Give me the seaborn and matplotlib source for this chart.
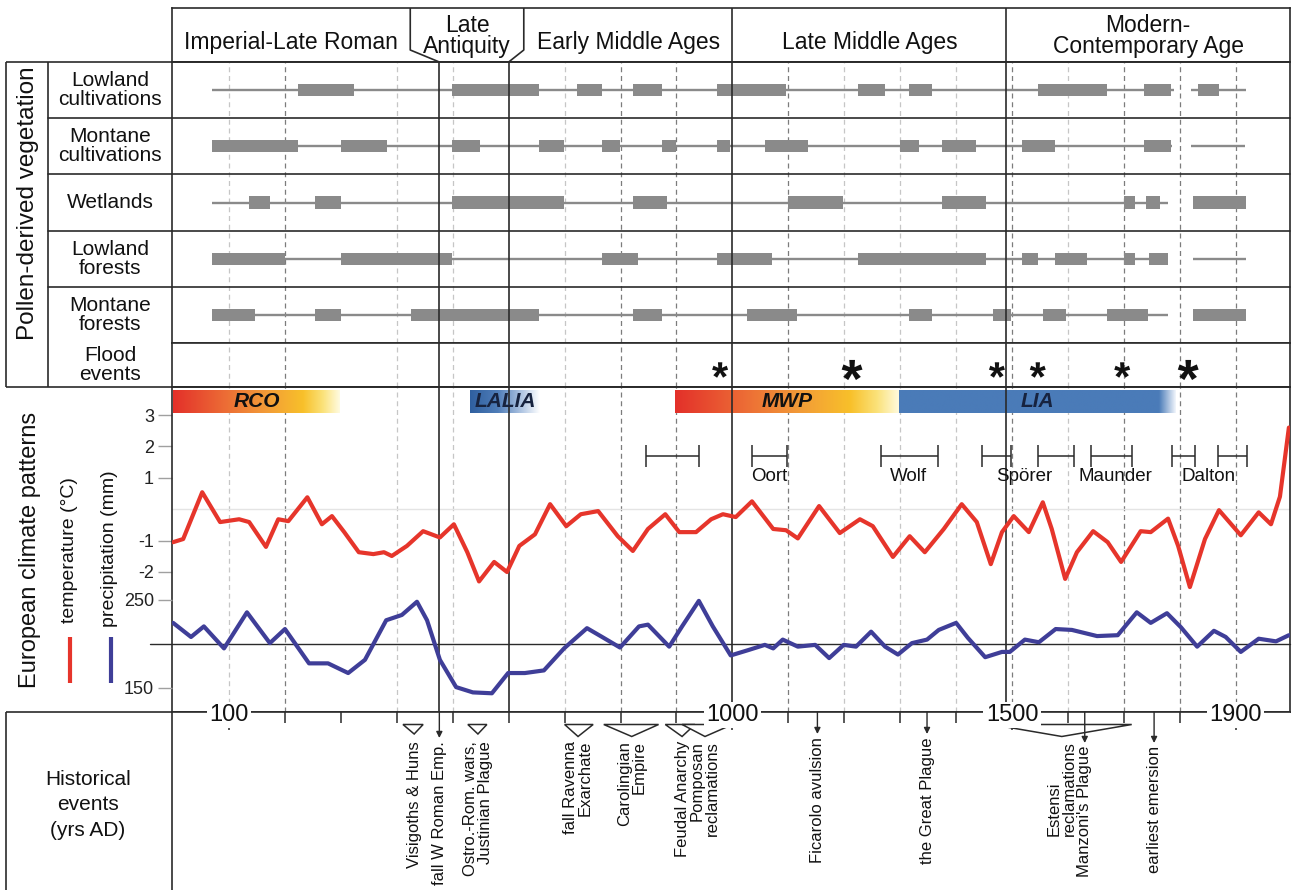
import numpy as np
import matplotlib
matplotlib.use("Agg")
import matplotlib.pyplot as plt
import matplotlib.transforms as mtransforms
from matplotlib.colors import LinearSegmentedColormap
from matplotlib.path import Path
from matplotlib.textpath import TextPath
from matplotlib.font_manager import FontProperties
import seaborn as sns

sns.set_theme(style="white")
plt.rcParams["font.family"] = ["Liberation Sans", "DejaVu Sans"]
plt.rcParams["axes.unicode_minus"] = False

# ---------------------------------------------------------------- data
PERIOD_NAMES = ["Imperial-Late Roman", "Late\nAntiquity", "Early Middle Ages",
                "Late Middle Ages", "Modern-\nContemporary Age"]
PERIOD_BREAKS = [476, 600, 1000, 1490]
LATE_ANTIQUITY_TOP = [424, 627]

POLLEN_ROWS = ["Lowland\ncultivations", "Montane\ncultivations", "Wetlands",
               "Lowland\nforests", "Montane\nforests"]
LC_RANGE = [(70, 1790), (1820, 1918)]
LC_PEAKS = [(223, 323), (499, 654), (722, 767), (822, 874), (972, 1096), (1225, 1273),
            (1316, 1357), (1546, 1670), (1736, 1784), (1832, 1870)]
MC_RANGE = [(70, 1786), (1820, 1916)]
MC_PEAKS = [(70, 223), (300, 383), (499, 549), (654, 699), (767, 799), (874, 899),
            (972, 996), (1058, 1135), (1300, 1333), (1375, 1435), (1518, 1577), (1736, 1784)]
WT_RANGE = [(70, 1779)]
WT_PEAKS = [(136, 173), (253, 300), (499, 699), (822, 883), (1099, 1198), (1375, 1453),
            (1700, 1720), (1739, 1764), (1823, 1918)]
LF_RANGE = [(70, 1779), (1823, 1918)]
LF_PEAKS = [(70, 200), (300, 499), (767, 831), (972, 1071), (1225, 1453), (1518, 1546),
            (1577, 1634), (1700, 1720), (1745, 1779)]
MF_RANGE = [(70, 1779)]
MF_PEAKS = [(70, 147), (253, 300), (425, 654), (822, 874), (1026, 1115), (1316, 1357),
            (1466, 1499), (1555, 1596), (1670, 1743), (1823, 1918)]

FLOOD_YEAR = [978, 1214, 1473, 1546, 1697, 1815]
FLOOD_MAJOR = [False, True, False, False, False, True]

CLIM_NAMES = ["RCO", "LALIA", "MWP", "LIA"]
CLIM_START = [0, 531, 897, 1298]
CLIM_END = [298, 656, 1298, 1793]
CLIM_KIND = ["warm", "cold-fading", "warm", "cold"]

MINIMA_START = [846, 1035, 1266, 1446, 1546, 1641, 1786, 1868]
MINIMA_END = [940, 1098, 1368, 1498, 1611, 1714, 1827, 1920]
MINIMA_NAMES = ["Oort", "Wolf", "Spörer", "Maunder", "Dalton"]
MINIMA_NAME_YEAR = [1066, 1315, 1522, 1685, 1852]

TEMP_YEAR = [0, 18, 52, 84, 118, 136, 166, 188, 206, 240, 266, 284, 306, 332, 358, 377,
             391, 418, 447, 477, 502, 526, 547, 574, 597, 619, 647, 674, 703, 729, 760,
             795, 822, 849, 880, 905, 935, 962, 983, 1006, 1035, 1073, 1096, 1117, 1155,
             1192, 1228, 1251, 1287, 1317, 1344, 1378, 1410, 1437, 1462, 1482, 1503, 1530,
             1555, 1571, 1595, 1616, 1645, 1671, 1695, 1730, 1748, 1779, 1797, 1818, 1845,
             1870, 1909, 1941, 1963, 1979, 1995]
TEMP_C = [-1.05, -0.95, 0.54, -0.41, -0.32, -0.41, -1.2, -0.32, -0.38, 0.38, -0.48, -0.22,
          -0.73, -1.37, -1.43, -1.37, -1.49, -1.17, -0.7, -0.9, -0.48, -1.37, -2.3, -1.68,
          -2.0, -1.17, -0.8, 0.16, -0.54, -0.16, -0.06, -0.86, -1.33, -0.63, -0.16, -0.73,
          -0.73, -0.32, -0.16, -0.25, 0.25, -0.63, -0.67, -0.93, 0.1, -0.76, -0.32, -0.54,
          -1.52, -0.86, -1.37, -0.63, 0.16, -0.41, -1.75, -0.73, -0.22, -0.73, 0.22, -0.63,
          -2.22, -1.37, -0.7, -1.05, -1.68, -0.7, -0.73, -0.3, -1.17, -2.48, -0.95, -0.03,
          -0.83, -0.1, -0.48, 0.4, 2.6]

PRECIP_YEAR = [0, 32, 55, 91, 132, 173, 200, 243, 277, 313, 343, 381, 409, 436, 454, 477,
               506, 536, 570, 599, 629, 663, 699, 740, 767, 799, 833, 849, 887, 910, 940,
               965, 997, 1028, 1058, 1073, 1090, 1117, 1148, 1173, 1199, 1221, 1248, 1273,
               1296, 1321, 1348, 1369, 1400, 1421, 1452, 1482, 1496, 1523, 1548, 1578, 1607,
               1652, 1689, 1723, 1748, 1777, 1802, 1831, 1861, 1882, 1909, 1941, 1972, 1995]
PRECIP_MM = [224, 208, 220, 195, 236, 201, 217, 178, 178, 167, 182, 227, 233, 248, 227, 182,
             151, 145, 144, 167, 167, 170, 195, 218, 208, 196, 220, 222, 197, 220, 249,
             220, 187, 193, 199, 195, 205, 197, 199, 184, 199, 197, 214, 197,
             188, 201, 205, 216, 224, 207, 185, 191, 191, 205, 202, 217, 216,
             209, 210, 236, 224, 235, 219, 197, 215, 208, 191, 206, 203, 210]

TEMP_TICKS = [3, 2, 1, -1, -2]
PRECIP_TICKS = [250, 150]
PRECIP_REF = 200
TIME_LABELS = [100, 1000, 1500, 1900]
CENTURIES = list(range(100, 2000, 100))
GRID_DARK = [200, 800, 900, 1100, 1500, 1700, 1800, 1900]
GRID_LIGHT = [100, 400, 500, 700, 1200, 1300, 1400, 1600]

TRI_LABELS = ["Visigoths & Huns", "Ostro.-Rom. wars,\nJustinian Plague", "fall Ravenna\nExarchate",
              "Carolingian\nEmpire", "Feudal Anarchy", "Pomposan\nreclamations",
              "Estensi\nreclamations"]
TRI_START = [411, 527, 700, 770, 880, 910, 1464]
TRI_APEX = [431, 545, 724, 820, 910, 951, 1589]
TRI_END = [447, 561, 751, 868, 933, 1000, 1714]
ARROW_LABELS = ["fall W Roman Emp.", "Ficarolo avulsion", "the Great Plague",
                "Manzoni's Plague", "earliest emersion"]
ARROW_YEAR = [476, 1152, 1348, 1630, 1754]

# ---------------------------------------------------------------- layout / style
W, H = 1292, 890
L, R = 172, 1290
XMIN, XMAX = -2, 1997
INK = "#2a2a2a"
BARGRAY = "#8a8a8a"
RED = "#e6352b"
BLUE = "#3f3e98"
FS_HEAD = 16.5
FS_ROW = 15
FS_EVENT = 12

fig = plt.figure(figsize=(W / 100, H / 100), dpi=100)
fig.patch.set_facecolor("white")


def fax(top, bottom):
    ax = fig.add_axes([L / W, 1 - bottom / H, (R - L) / W, (bottom - top) / H])
    ax.set_xlim(XMIN, XMAX)
    ax.set_xticks([])
    ax.set_yticks([])
    for s in ax.spines.values():
        s.set_color(INK)
        s.set_linewidth(1.2)
    ax.set_facecolor("white")
    return ax


def grid(ax):
    for yr in GRID_DARK:
        ax.axvline(yr, color="#7c7c7c", lw=0.9, ls=(0, (4, 3)), zorder=0.5)
    for yr in GRID_LIGHT:
        ax.axvline(yr, color="#c6c6c6", lw=0.9, ls=(0, (4, 3)), zorder=0.5)


def breaks(ax, years):
    for yr in years:
        ax.axvline(yr, color=INK, lw=1.2, zorder=4)


def asterisk_marker():
    tp = TextPath((0, 0), "*", size=1, prop=FontProperties(family="Liberation Sans", weight="bold"))
    verts = tp.vertices.copy()
    codes = tp.codes
    start = None
    for i, cd in enumerate(codes):
        if cd == Path.MOVETO:
            start = verts[i].copy()
        elif cd == Path.CLOSEPOLY and start is not None:
            verts[i] = start
    ext = Path(verts, codes).get_extents()
    verts = verts - np.array([(ext.x0 + ext.x1) / 2, (ext.y0 + ext.y1) / 2])
    return Path(verts, codes)


# ---------------- header
ax_head = fax(8, 62)
ax_head.set_ylim(62, 8)
hb = [XMIN, LATE_ANTIQUITY_TOP[0], LATE_ANTIQUITY_TOP[1], PERIOD_BREAKS[2], PERIOD_BREAKS[3], XMAX]
ax_head.plot([LATE_ANTIQUITY_TOP[0], LATE_ANTIQUITY_TOP[0], PERIOD_BREAKS[0]], [8, 50, 62], color=INK, lw=1.2)
ax_head.plot([LATE_ANTIQUITY_TOP[1], LATE_ANTIQUITY_TOP[1], PERIOD_BREAKS[1]], [8, 50, 62], color=INK, lw=1.2)
breaks(ax_head, PERIOD_BREAKS[2:])
for i, name in enumerate(PERIOD_NAMES):
    xc = (hb[i] + hb[i + 1]) / 2
    yc = 36 if "\n" in name else 43
    ax_head.text(xc, yc, name, ha="center", va="center", fontsize=FS_HEAD,
                 linespacing=0.9, color="#111")

# ---------------- pollen rows
ax_pol = fax(62, 343)
ax_pol.set_ylim(len(POLLEN_ROWS) - 0.5, -0.5)
grid(ax_pol)
breaks(ax_pol, PERIOD_BREAKS)
ranges = [LC_RANGE, MC_RANGE, WT_RANGE, LF_RANGE, MF_RANGE]
peaks = [LC_PEAKS, MC_PEAKS, WT_PEAKS, LF_PEAKS, MF_PEAKS]
for i, (rg, pk) in enumerate(zip(ranges, peaks)):
    ax_pol.hlines([i] * len(rg), [a for a, b in rg], [b for a, b in rg], color=BARGRAY, lw=1.7, zorder=2)
    ax_pol.barh([i] * len(pk), [b - a for a, b in pk], left=[a for a, b in pk], height=0.22,
                color=BARGRAY, edgecolor="none", zorder=3)
lab_tr = mtransforms.blended_transform_factory(ax_pol.transAxes, ax_pol.transData)
for i, name in enumerate(POLLEN_ROWS):
    ax_pol.text((110 - L) / (R - L), i, name, transform=lab_tr, ha="center", va="center",
                fontsize=FS_ROW, linespacing=1.0, color="#111")
for k in range(1, len(POLLEN_ROWS)):
    ax_pol.axhline(k - 0.5, xmin=(48 - L) / (R - L), xmax=1, color=INK, lw=1.2, clip_on=False, zorder=5)

# ---------------- flood events
ax_fl = fax(343, 387)
ax_fl.set_ylim(387, 343)
grid(ax_fl)
breaks(ax_fl, PERIOD_BREAKS)
ast = asterisk_marker()
ax_fl.scatter(FLOOD_YEAR, [370] * len(FLOOD_YEAR), marker=ast,
              s=[(15.0 if m else 11.5) ** 2 for m in FLOOD_MAJOR], c="#111", linewidths=0, zorder=6)
ax_fl.text((110 - L) / (R - L), 0.5, "Flood\nevents", transform=ax_fl.transAxes, ha="center",
           va="center", fontsize=FS_ROW, linespacing=1.0, color="#111")
ax_fl.set_xlim(XMIN, XMAX)
ax_fl.set_ylim(387, 343)

# ---------------- climate
T0_PX, T_PX = 509.2, 31.4
ax_t = fax(387, 712)
ax_t.set_ylim((T0_PX - 712) / T_PX, (T0_PX - 387) / T_PX)
grid(ax_t)
breaks(ax_t, PERIOD_BREAKS)
ax_t.axhline(0, color="#e4e4e4", lw=1.0, zorder=0.6)

cmaps = {
    "warm": LinearSegmentedColormap.from_list("warm", [(0, "#e3302a"), (0.3, "#ec6a35"), (0.55, "#f29a38"),
                                                       (0.78, "#f8c02a"), (0.9, "#fbe27a"), (1, "#fffbe0")]),
    "cold-fading": LinearSegmentedColormap.from_list("cf", [(0, "#2f5f9f"), (0.4, "#4f7db8"),
                                                            (0.75, "#b3c8e4"), (1, "#ffffff")]),
    "cold": LinearSegmentedColormap.from_list("c", [(0, "#4a7bb8"), (0.94, "#4a7bb8"), (1, "#eef3fa")]),
}
grad = np.linspace(0, 1, 256)[None, :]
bar_lo, bar_hi = (T0_PX - 413) / T_PX, (T0_PX - 390) / T_PX
for name, s, e, kind in zip(CLIM_NAMES, CLIM_START, CLIM_END, CLIM_KIND):
    ax_t.imshow(grad, cmap=cmaps[kind], extent=(s, e, bar_lo, bar_hi), aspect="auto", zorder=3,
                interpolation="bilinear")
    ax_t.text((s + e) / 2, (bar_lo + bar_hi) / 2, name, ha="center", va="center", fontsize=15,
              fontweight="bold", style="italic", color="#111" if kind == "warm" else "#17233f", zorder=4)

ymin_y, cap = (T0_PX - 456) / T_PX, 11 / T_PX
ax_t.hlines([ymin_y] * len(MINIMA_START), MINIMA_START, MINIMA_END, color=INK, lw=1.1, zorder=3)
ax_t.vlines(MINIMA_START + MINIMA_END, ymin_y - cap, ymin_y + cap, color=INK, lw=1.1, zorder=3)
for name, yr in zip(MINIMA_NAMES, MINIMA_NAME_YEAR):
    ax_t.text(yr, (T0_PX - 476) / T_PX, name, ha="center", va="center", fontsize=13.5, color="#111", zorder=4)

sns.lineplot(x=TEMP_YEAR, y=TEMP_C, ax=ax_t, color=RED, lw=3.0, zorder=5)
ax_t.lines[-1].set_solid_joinstyle("round")
ax_t.set_xlim(XMIN, XMAX)
ax_t.set_ylim((T0_PX - 712) / T_PX, (T0_PX - 387) / T_PX)
ax_t.set_yticks(TEMP_TICKS)
ax_t.set_yticklabels([str(v) for v in TEMP_TICKS])
ax_t.set_xticks([])

P0_PX, P_PX = 600, 0.88
ax_p = ax_t.twinx()
sns.lineplot(x=PRECIP_YEAR, y=PRECIP_MM, ax=ax_p, color=BLUE, lw=3.0, zorder=5)
ax_p.lines[-1].set_solid_joinstyle("round")
ax_p.axhline(PRECIP_REF, xmin=(150 - L) / (R - L), xmax=1, color=INK, lw=1.0, clip_on=False, zorder=1)
ax_p.set_ylim(250 - (712 - P0_PX) / P_PX, 250 + (P0_PX - 387) / P_PX)
ax_p.set_xlim(XMIN, XMAX)
ax_p.yaxis.tick_left()
ax_p.set_yticks(PRECIP_TICKS)
ax_p.set_yticklabels([str(v) for v in PRECIP_TICKS])
ax_p.set_xticks([])
for s in ax_p.spines.values():
    s.set_visible(False)
for a in (ax_t, ax_p):
    a.set_xlabel("")
    a.set_ylabel("")
    a.tick_params(axis="y", direction="out", length=10, width=1, color="#a0a0a0", pad=3,
                  labelsize=13, labelcolor="#222")

# ---------------- historical events / time axis
ax_ev = fax(712, 890)
ax_ev.set_ylim(890, 712)
ax_ev.spines["right"].set_visible(False)
ax_ev.spines["bottom"].set_visible(False)
minor = [c for c in CENTURIES if c not in TIME_LABELS]
ax_ev.vlines(minor, 712, 723, color=INK, lw=1.1)
ax_ev.vlines(TIME_LABELS, 712, 730, color=INK, lw=1.1)
for yr in TIME_LABELS:
    ax_ev.text(yr, 712.5, str(yr), ha="center", va="center_baseline", fontsize=17, color="#111",
               zorder=6, clip_on=False,
               bbox=dict(boxstyle="square,pad=0.1", fc="white", ec="none"))
for lab, s, a, e in zip(TRI_LABELS, TRI_START, TRI_APEX, TRI_END):
    depth = 734 if e - s < 45 else 736.5
    ax_ev.fill([s, a, e], [724.5, depth, 724.5], facecolor="white", edgecolor=INK, lw=1.1, zorder=3)
    ax_ev.text(a, 741, lab, rotation=90, ha="center", va="top", fontsize=FS_EVENT, linespacing=1.0,
               multialignment="left" if lab.startswith("Estensi") else "right", color="#111")
for lab, yr in zip(ARROW_LABELS, ARROW_YEAR):
    tip = 743 if yr > 1600 else (738 if yr < 500 else 734)
    ax_ev.annotate("", xy=(yr, tip), xytext=(yr, 712),
                   arrowprops=dict(arrowstyle="-|>", color=INK, lw=1.0, mutation_scale=9,
                                   shrinkA=0, shrinkB=0))
    ax_ev.text(yr, tip + 3, lab, rotation=90, ha="center", va="top", fontsize=FS_EVENT, color="#111")

# ---------------- frame overlay & side labels
ov = fig.add_axes([0, 0, 1, 1], zorder=10)
ov.set_xlim(0, W)
ov.set_ylim(H, 0)
ov.axis("off")
ov.patch.set_alpha(0)
kw = dict(color=INK, lw=1.2, solid_capstyle="butt")
ov.plot([6, R], [62, 62], **kw)
ov.plot([6, R], [387, 387], **kw)
ov.plot([6, 6], [62, 387], **kw)
ov.plot([48, 48], [62, 387], **kw)
ov.plot([6, L], [712, 712], **kw)
ov.plot([6, 6], [712, H], **kw)
ov.text(28, 203, "Pollen-derived vegetation", rotation=90, ha="center", va="center", fontsize=17.5, color="#111")
ov.text(30, 550, "European climate patterns", rotation=90, ha="center", va="center", fontsize=17, color="#111")
ov.text(70, 550, "temperature (°C)", rotation=90, ha="center", va="center", fontsize=14, color="#111")
ov.text(110, 549, "precipitation (mm)", rotation=90, ha="center", va="center", fontsize=14, color="#111")
ov.plot([70, 70], [637, 683], color=RED, lw=3, solid_capstyle="butt")
ov.plot([111, 111], [637, 683], color=BLUE, lw=3, solid_capstyle="butt")
ov.text(88, 805, "Historical\nevents\n(yrs AD)", ha="center", va="center", fontsize=15,
        linespacing=1.45, color="#111")

fig.savefig("out.png", dpi=100, facecolor="white")
